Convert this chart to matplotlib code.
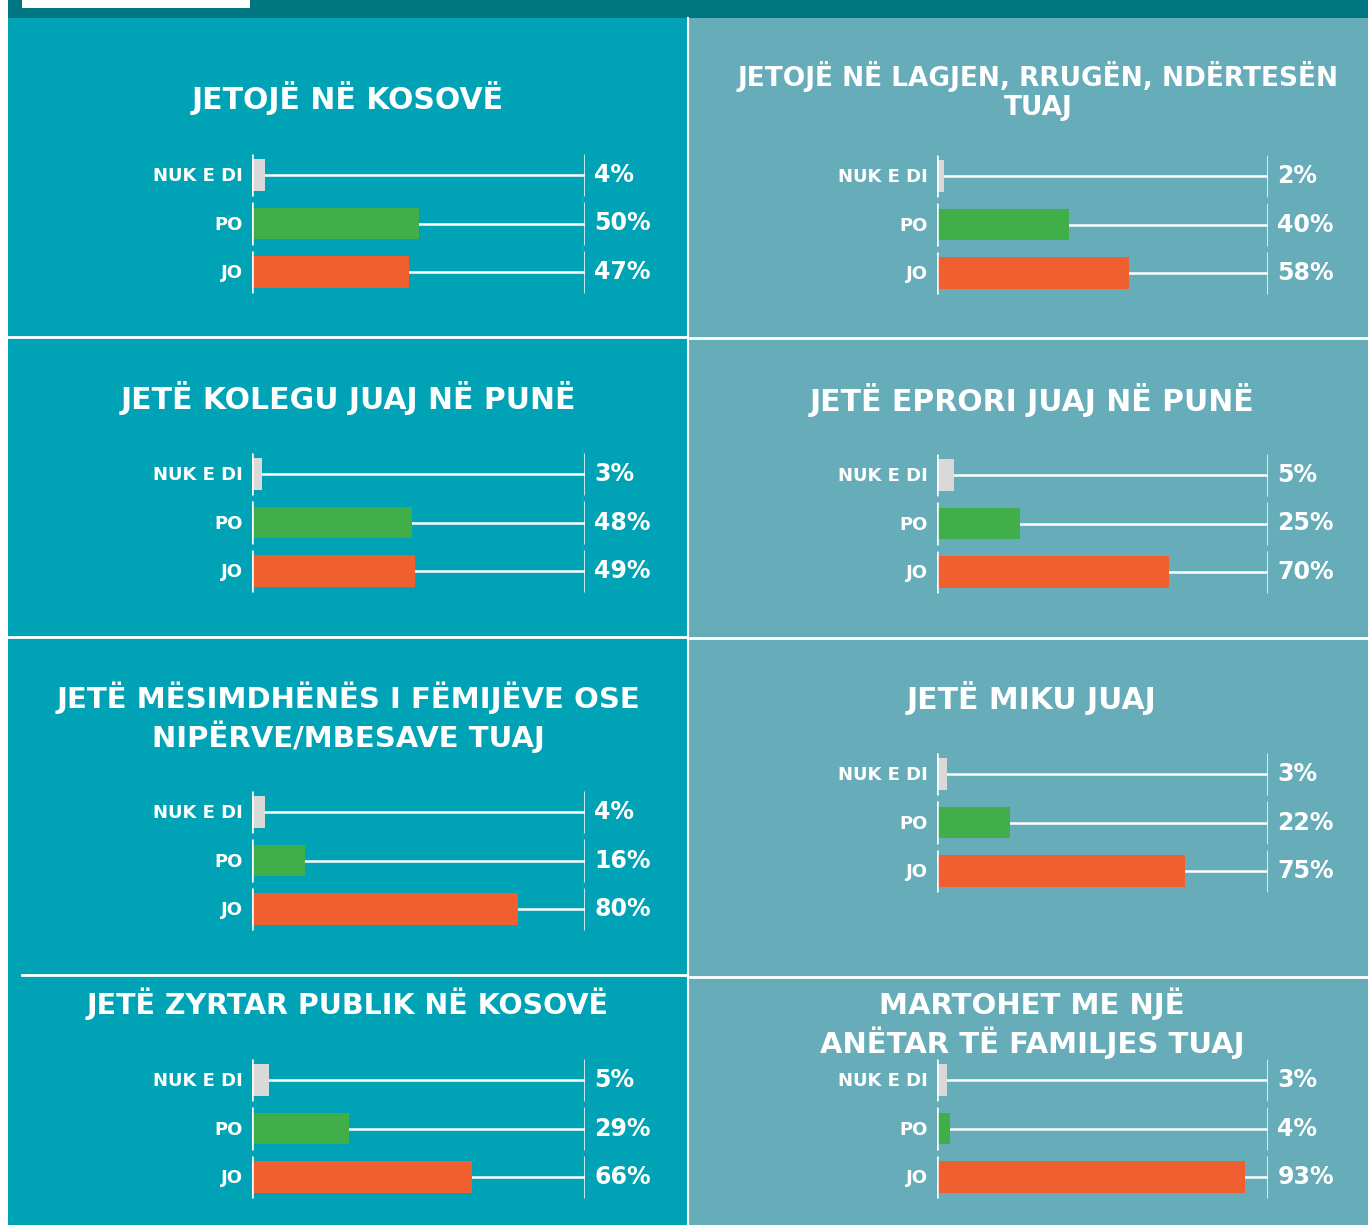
import matplotlib.pyplot as plt
from matplotlib.patches import Rectangle

# te dhenat, sipas renditjes: rreshti 1 majtas, rreshti 1 djathtas, ...
kategorite = ["NUK E DI", "PO", "JO"]
titujt = [
    "JETOJË NË KOSOVË",
    "JETOJË NË LAGJEN, RRUGËN, NDËRTESËN\nTUAJ",
    "JETË KOLEGU JUAJ NË PUNË",
    "JETË EPRORI JUAJ NË PUNË",
    "JETË MËSIMDHËNËS I FËMIJËVE OSE\nNIPËRVE/MBESAVE TUAJ",
    "JETË MIKU JUAJ",
    "JETË ZYRTAR PUBLIK NË KOSOVË",
    "MARTOHET ME NJË\nANËTAR TË FAMILJES TUAJ",
]
nuk_e_di = [4, 2, 3, 5, 4, 3, 5, 3]
po = [50, 40, 48, 25, 16, 22, 29, 4]
jo = [47, 58, 49, 70, 80, 75, 66, 93]

ngjyrat = ["#D9D9D9", "#40AE49", "#F05F2F"]
sfond_majtas = "#00A3B5"
sfond_djathtas = "#67ACB9"
shiriti_lart = "#007681"

W, H = 1368, 1225
plt.rcParams['font.family'] = ['DejaVu Sans']

fig = plt.figure(figsize=(W / 100, H / 100), dpi=100)
bg = fig.add_axes([0, 0, 1, 1])
bg.set_xlim(0, W)
bg.set_ylim(H, 0)
bg.axis("off")

# sfondet
bg.add_patch(Rectangle((8, 0), 680, H, color=sfond_majtas, lw=0))
bg.add_patch(Rectangle((688, 0), W - 688, H, color=sfond_djathtas, lw=0))
bg.add_patch(Rectangle((8, 0), W - 8, 18, color=shiriti_lart, lw=0))
bg.add_patch(Rectangle((22, 0), 228, 8, color="white", lw=0))

# vijat ndarese
bg.plot([688, 688], [18, H], color="white", lw=1.5)
for y, x0 in [(337, 8), (637, 8), (975, 22)]:
    bg.plot([x0, 686], [y, y], color="white", lw=2)
for y in [338, 638, 977]:
    bg.plot([690, W], [y, y], color="white", lw=2)

# pozicionet e titujve (qendra x, y e rreshtit te pare, hapi i rreshtave, madhesia)
pos_titujt = [(348, 98, 0, 21.5), (1038, 76, 32, 19), (348, 398, 0, 21.5),
              (1032, 400, 0, 21.5), (348, 698, 39, 21), (1032, 698, 0, 21.5),
              (348, 1004, 0, 20.5), (1032, 1004, 39, 21)]
# qendra e rreshtit te pare te shiritave
qendra_y = [175, 176, 474, 475, 812, 774, 1080, 1080]

hapi = 48.5
for k in range(8):
    tx, ty, dy, fs = pos_titujt[k]
    for j, rresht in enumerate(titujt[k].split("\n")):
        bg.text(tx, ty + j * dy, rresht, color="white", fontsize=fs,
                fontweight="bold", ha="center", va="center")

    majtas = k % 2 == 0
    x0, x1 = (252, 585) if majtas else (937, 1268)
    c0 = qendra_y[k]
    top = c0 - hapi / 2
    bottom = c0 + 2.5 * hapi
    ax = fig.add_axes([x0 / W, 1 - bottom / H, (x1 - x0) / W, (bottom - top) / H])
    ax.set_xlim(0, 100)
    ax.set_ylim(2.5, -0.5)
    ax.axis("off")

    vlerat = [nuk_e_di[k], po[k], jo[k]]
    ax.barh(range(3), vlerat, height=0.65, color=ngjyrat, zorder=3)
    for i, v in enumerate(vlerat):
        ax.plot([v, 100], [i, i], color="white", lw=1.8, zorder=2)
        ax.vlines([0, 100], i - 0.44, i + 0.44, color="white", lw=1.8, zorder=4)
        ax.text(102.8, i, f"{v}%", color="white", fontsize=17, fontweight="bold",
                ha="left", va="center")
        ax.text(-2.7, i + 0.03, kategorite[i], color="white", fontsize=13,
                fontweight="bold", ha="right", va="center")

fig.savefig("out.png", dpi=100)
